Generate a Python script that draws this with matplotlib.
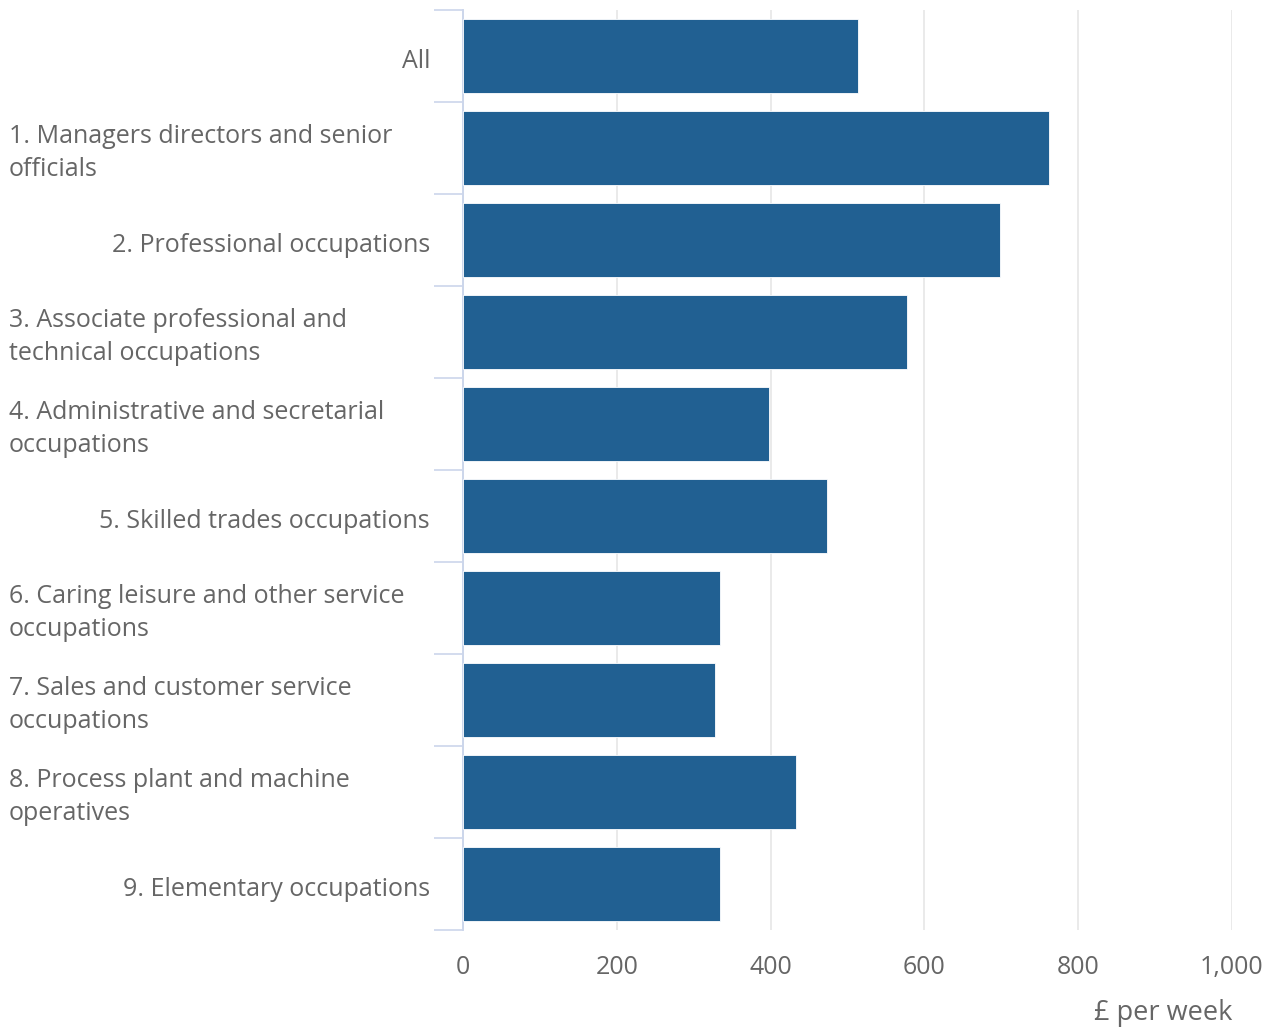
import matplotlib
matplotlib.use("Agg")
import matplotlib.pyplot as plt
from matplotlib.transforms import blended_transform_factory
import numpy as np

categories = [
    "All",
    "1. Managers directors and senior\nofficials",
    "2. Professional occupations",
    "3. Associate professional and\ntechnical occupations",
    "4. Administrative and secretarial\noccupations",
    "5. Skilled trades occupations",
    "6. Caring leisure and other service\noccupations",
    "7. Sales and customer service\noccupations",
    "8. Process plant and machine\noperatives",
    "9. Elementary occupations",
]
weekly_pay = [514, 762, 698, 578, 398, 473, 334, 328, 433, 334]
x_ticks = [0, 200, 400, 600, 800, 1000]
x_tick_labels = ["0", "200", "400", "600", "800", "1,000"]

W, H = 1276, 1029
plt.rcParams["font.family"] = ["Open Sans", "DejaVu Sans"]
fig = plt.figure(figsize=(W / 100, H / 100), dpi=100)
left, right, top, bottom = 463, 1232, 10, 930
ax = fig.add_axes([left / W, 1 - bottom / H, (right - left) / W, (bottom - top) / H])

n = len(categories)
y = np.arange(n)
ax.barh(y, weekly_pay, height=0.8, color="#216092", edgecolor="white", linewidth=0.6, zorder=3)

ax.set_xlim(0, 1000)
ax.set_ylim(n - 0.5, -0.5)

ax.set_xticks(x_ticks)
ax.set_xticklabels(x_tick_labels, fontsize=18, color="#666666")
ax.tick_params(axis="x", length=0, pad=18)
ax.grid(axis="x", color="#e6e6e6", linewidth=1.2, zorder=0)

# category boundaries as tick marks on the y axis
ax.set_yticks(np.arange(-0.5, n, 1.0))
ax.set_yticklabels([])
ax.tick_params(axis="y", length=21, width=1.2, color="#ccd6eb", direction="out")

for s in ["top", "right", "bottom"]:
    ax.spines[s].set_visible(False)
ax.spines["left"].set_color("#ccd6eb")
ax.spines["left"].set_linewidth(1.4)
ax.set_axisbelow(True)

# category labels
label_tf = blended_transform_factory(fig.transFigure, ax.transData)
for yi, lab in zip(y, categories):
    if "\n" in lab:
        ax.text(9 / W, yi + 0.055, lab, transform=label_tf, ha="left", va="center",
                fontsize=18, color="#666666", linespacing=1.43)
    else:
        ax.text(430 / W, yi + 0.055, lab, transform=label_tf, ha="right", va="center",
                fontsize=18, color="#666666")

fig.text(right / W, 1 - 1013 / H, "£ per week", ha="right", va="center", fontsize=19.5, color="#666666")

fig.savefig("out.png", dpi=100, facecolor="white")
